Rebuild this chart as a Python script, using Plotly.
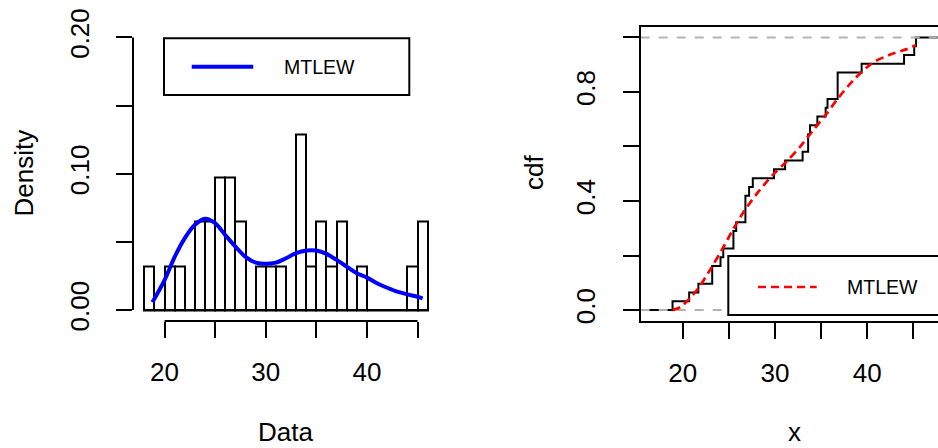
import plotly.graph_objects as go

# ---------------- data ----------------
# Left panel: histogram (bin edges, density per bin)
bin_edges = [18, 19, 20, 21, 22, 23, 24, 25, 26, 27, 28, 29, 30, 31, 32,
             33, 34, 35, 36, 37, 38, 39, 40, 41, 42, 43, 44, 45, 46]
bin_density = [0.032, 0.0, 0.032, 0.032, 0.0, 0.065, 0.065, 0.097, 0.097, 0.065,
               0.0, 0.032, 0.032, 0.032, 0.0, 0.129, 0.032, 0.065, 0.032, 0.065,
               0.0, 0.032, 0.0, 0.0, 0.0, 0.0, 0.032, 0.065]

# fitted MTLEW density curve
dens_x = [18.8, 20.0, 21.0, 22.0, 23.0, 24.0, 25.0, 26.0, 27.0, 28.0, 29.0, 30.0,
          31.0, 32.0, 33.0, 34.0, 35.0, 36.0, 37.0, 38.0, 39.0, 40.0, 41.0, 42.0,
          43.0, 44.0, 45.0, 45.5]
dens_y = [0.0057, 0.022, 0.039, 0.0528, 0.0626, 0.067, 0.0638, 0.055, 0.0466, 0.039,
          0.0348, 0.0339, 0.0348, 0.038, 0.0417, 0.0437, 0.0437, 0.0412, 0.0368, 0.0319,
          0.027, 0.0238, 0.0197, 0.0164, 0.0135, 0.0115, 0.0098, 0.0086]

# Right panel: empirical CDF sample (sorted observations)
ecdf_x = [18.9, 20.7, 21.7, 23.2, 23.2, 24.1, 24.4, 25.5, 25.5, 25.8, 26.8, 26.8,
          26.8, 27.2, 27.6, 29.9, 31.1, 33.0, 33.6, 33.6, 33.8, 34.6, 35.5, 35.7,
          36.8, 36.8, 36.8, 39.4, 44.0, 45.1, 45.3]

# fitted MTLEW cdf
cdf_x = [18.9, 19.8, 20.8, 21.7, 23.1, 24.2, 25.5, 26.6, 28.0, 29.8, 31.3, 32.7,
         34.15, 35.6, 36.8, 38.5, 40.6, 42.5, 44.3, 45.3]
cdf_y = [0.0, 0.012, 0.045, 0.08, 0.155, 0.218, 0.298, 0.36, 0.425, 0.497, 0.546,
         0.598, 0.66, 0.72, 0.775, 0.843, 0.907, 0.937, 0.957, 0.972]

hist_ticks = [20, 25, 30, 35, 40, 45]
hist_ticktext = ["20", "", "30", "", "40", ""]
dens_ticks = [0.0, 0.05, 0.10, 0.15, 0.20]
dens_ticktext = ["0.00", "", "0.10", "", "0.20"]
cdf_xticks = [20, 25, 30, 35, 40, 45]
cdf_xticktext = ["20", "", "30", "", "40", ""]
cdf_yticks = [0.0, 0.2, 0.4, 0.6, 0.8, 1.0]
cdf_yticktext = ["0.0", "", "0.4", "", "0.8", ""]

legend_label = "MTLEW"

# ---------------- styling ----------------
W, H = 938, 448
FONT = "Liberation Sans, Arial, Helvetica, sans-serif"
FS = 26
LFS = 19.5

x1_range = [16.88, 47.12]
y1_range = [-0.008, 0.208]
x2_range = [15.447, 47.68]
y2_range = [-0.04, 1.04]
x1_dom = [133 / W, 439 / W]
x2_dom = [640.7 / W, 1.0]
y_dom = [(H - 321) / H, (H - 26.5) / H]


def px(x):
    return x / W


def py(y):
    return (H - y) / H


fig = go.Figure()

# histogram bars
centers = [(a + b) / 2 for a, b in zip(bin_edges[:-1], bin_edges[1:])]
widths = [b - a for a, b in zip(bin_edges[:-1], bin_edges[1:])]
fig.add_trace(go.Bar(x=centers, y=bin_density, width=widths,
                     marker=dict(color="white", line=dict(color="black", width=2)),
                     xaxis="x", yaxis="y", showlegend=False, hoverinfo="skip"))
# baseline of histogram (covers empty bins)
fig.add_trace(go.Scatter(x=[bin_edges[0], bin_edges[-1]], y=[0, 0], mode="lines",
                         line=dict(color="black", width=2), xaxis="x", yaxis="y",
                         showlegend=False, hoverinfo="skip"))
# density curve
fig.add_trace(go.Scatter(x=dens_x, y=dens_y, mode="lines",
                         line=dict(color="#0000FF", width=4, shape="spline", smoothing=0.8),
                         xaxis="x", yaxis="y", showlegend=False, hoverinfo="skip"))

# ECDF step
n = len(ecdf_x)
sx = [x2_range[0] - 1] + ecdf_x + [x2_range[1] + 1]
sy = [0.0] + [(i + 1) / n for i in range(n)] + [1.0]
fig.add_trace(go.Scatter(x=sx, y=sy, mode="lines", line=dict(color="black", width=2, shape="hv"),
                         xaxis="x2", yaxis="y2", showlegend=False, hoverinfo="skip"))
# gray dashed lines at 0 and 1
for lvl in (0.0, 1.0):
    fig.add_trace(go.Scatter(x=[x2_range[0], x2_range[1]], y=[lvl, lvl], mode="lines",
                             line=dict(color="#B3B3B3", width=2, dash="9px,9px"),
                             xaxis="x2", yaxis="y2", showlegend=False, hoverinfo="skip"))
# fitted cdf
fig.add_trace(go.Scatter(x=cdf_x, y=cdf_y, mode="lines",
                         line=dict(color="#FF0000", width=2.7, dash="8px,5px", shape="spline", smoothing=0.8),
                         xaxis="x2", yaxis="y2", showlegend=False, hoverinfo="skip"))

tickfont = dict(family=FONT, size=FS, color="black")
common_ax = dict(showgrid=False, zeroline=False, ticks="outside", ticklen=16, tickwidth=2,
                 tickcolor="black", tickfont=tickfont, fixedrange=True, automargin=False)

shapes = []
# left panel axis lines (R style: only between first and last tick)
shapes.append(dict(type="line", xref="x", yref="y domain", x0=hist_ticks[0], x1=hist_ticks[-1],
                   y0=0, y1=0, line=dict(color="black", width=2)))
shapes.append(dict(type="line", xref="x domain", yref="y", x0=0, x1=0,
                   y0=dens_ticks[0], y1=dens_ticks[-1], line=dict(color="black", width=2)))
# left legend
shapes.append(dict(type="rect", xref="paper", yref="paper", x0=px(164), x1=px(409.3),
                   y0=py(95), y1=py(38.3), fillcolor="white", line=dict(color="black", width=2)))
shapes.append(dict(type="line", xref="paper", yref="paper", x0=px(191.7), x1=px(253.3),
                   y0=py(66.7), y1=py(66.7), line=dict(color="#0000FF", width=4)))
# right legend
shapes.append(dict(type="rect", xref="paper", yref="paper", x0=px(728.3), x1=px(960),
                   y0=py(315), y1=py(256), fillcolor="white", line=dict(color="black", width=2)))
shapes.append(dict(type="line", xref="paper", yref="paper", x0=px(758), x1=px(816.7),
                   y0=py(287), y1=py(287), line=dict(color="#FF0000", width=2.7, dash="8px,5px")))

ann_font = dict(family=FONT, size=FS, color="black")
annotations = [
    dict(text=legend_label, x=px(281.7), y=py(66.7), xref="paper", yref="paper",
         xanchor="left", yanchor="middle", showarrow=False,
         font=dict(family=FONT, size=LFS, color="black")),
    dict(text=legend_label, x=px(845), y=py(286.7), xref="paper", yref="paper",
         xanchor="left", yanchor="middle", showarrow=False,
         font=dict(family=FONT, size=LFS, color="black")),
    dict(text="Density", x=px(23.5), y=py(173), xref="paper", yref="paper", textangle=-90,
         xanchor="center", yanchor="middle", showarrow=False, font=ann_font),
    dict(text="cdf", x=px(534), y=py(173), xref="paper", yref="paper", textangle=-90,
         xanchor="center", yanchor="middle", showarrow=False, font=ann_font),
    dict(text="Data", x=px(285.9), y=0, xref="paper", yref="paper", borderpad=0,
         xanchor="center", yanchor="bottom", showarrow=False, font=ann_font),
    dict(text="x", x=px(794.4), y=0, xref="paper", yref="paper", borderpad=0,
         xanchor="center", yanchor="bottom", showarrow=False, font=ann_font),
]

fig.update_layout(
    template="none",
    width=W, height=H, autosize=False,
    margin=dict(l=0, r=0, t=0, b=0, pad=0),
    paper_bgcolor="white", plot_bgcolor="white",
    showlegend=False, bargap=0,
    font=dict(family=FONT, size=FS, color="black"),
    xaxis=dict(domain=x1_dom, range=x1_range, anchor="y", showline=False,
               tickvals=hist_ticks, ticktext=hist_ticktext, ticklabelstandoff=12, **common_ax),
    yaxis=dict(domain=y_dom, range=y1_range, anchor="x", showline=False,
               tickvals=dens_ticks, ticktext=dens_ticktext, tickangle=-90,
               ticklabelstandoff=17, **common_ax),
    xaxis2=dict(domain=x2_dom, range=x2_range, anchor="y2", showline=True, mirror=True,
                linecolor="black", linewidth=2,
                tickvals=cdf_xticks, ticktext=cdf_xticktext, ticklabelstandoff=12, **common_ax),
    yaxis2=dict(domain=y_dom, range=y2_range, anchor="x2", showline=True, mirror=False,
                linecolor="black", linewidth=2,
                tickvals=cdf_yticks, ticktext=cdf_yticktext, tickangle=-90,
                ticklabelstandoff=17, **common_ax),
    shapes=shapes,
    annotations=annotations,
)

fig.write_html("out.html", config={"displayModeBar": False},
               post_script="document.body.style.margin='0';document.body.style.overflow='hidden';")
